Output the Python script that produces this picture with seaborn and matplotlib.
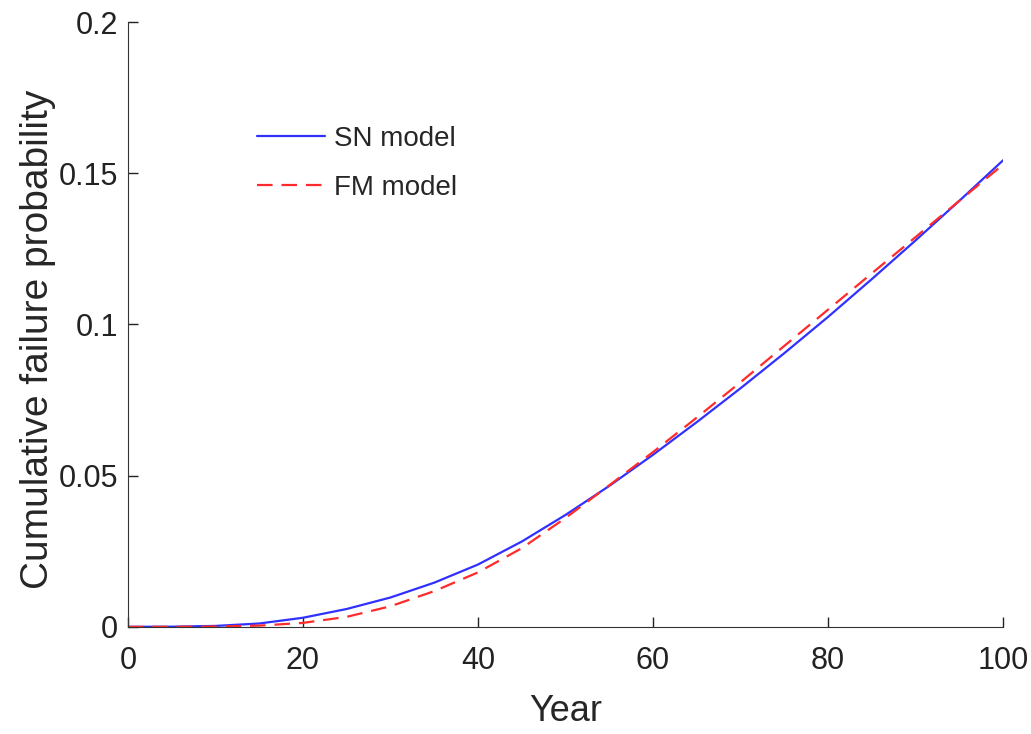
import pandas as pd
import seaborn as sns
import matplotlib.pyplot as plt

years = [0, 5, 10, 15, 20, 25, 30, 35, 40, 45, 50,
         55, 60, 65, 70, 75, 80, 85, 90, 95, 100]
sn_model = [0.0, 0.00005, 0.0003, 0.0011, 0.0030, 0.0059, 0.0097, 0.0146, 0.0206, 0.0282, 0.0370,
            0.0466, 0.0569, 0.0677, 0.0789, 0.0905, 0.1025, 0.1150, 0.1278, 0.1409, 0.1543]
fm_model = [0.0, 0.0, 0.0001, 0.0004, 0.0013, 0.0033, 0.0068, 0.0118, 0.0180, 0.0260, 0.0360,
            0.0468, 0.0578, 0.0692, 0.0809, 0.0929, 0.1049, 0.1169, 0.1289, 0.1409, 0.1529]

df = pd.concat([
    pd.DataFrame({'Year': years, 'p': sn_model, 'model': 'SN model'}),
    pd.DataFrame({'Year': years, 'p': fm_model, 'model': 'FM model'}),
])

sns.set_style('ticks')
plt.rcParams['font.family'] = ['Liberation Sans', 'DejaVu Sans']

fig = plt.figure(figsize=(10.31, 7.34), dpi=100)
ax = fig.add_axes([0.124, 0.146, 0.849, 0.824])

sns.lineplot(data=df, x='Year', y='p', hue='model', style='model', ax=ax,
             palette={'SN model': '#3030ff', 'FM model': '#ff2a2a'},
             dashes={'SN model': '', 'FM model': (7, 4)}, linewidth=1.6)

ax.set_xlim(0, 100)
ax.set_ylim(0, 0.2)
ax.set_xticks([0, 20, 40, 60, 80, 100])
ax.set_yticks([0, 0.05, 0.1, 0.15, 0.2])
ax.set_yticklabels(['0', '0.05', '0.1', '0.15', '0.2'])
ax.set_xlabel('Year', fontsize=26, labelpad=13)
ax.set_ylabel('Cumulative failure probability', fontsize=28)
ax.yaxis.set_label_coords(-0.082, 0.476)
ax.tick_params(direction='in', length=7, width=1, labelsize=22, colors='#222222')
ax.tick_params(axis='x', pad=14)
ax.tick_params(axis='y', pad=7)
for s in ['left', 'bottom']:
    ax.spines[s].set_color('#333333')
sns.despine(ax=ax)

leg = ax.legend(loc='upper left', bbox_to_anchor=(0.148, 0.828), frameon=False,
                fontsize=20, handlelength=2.45, handletextpad=0.3,
                labelspacing=0.82, borderpad=0, borderaxespad=0)
for h in leg.get_lines():
    h.set_linewidth(1.6)

fig.savefig('out.png', dpi=100)
